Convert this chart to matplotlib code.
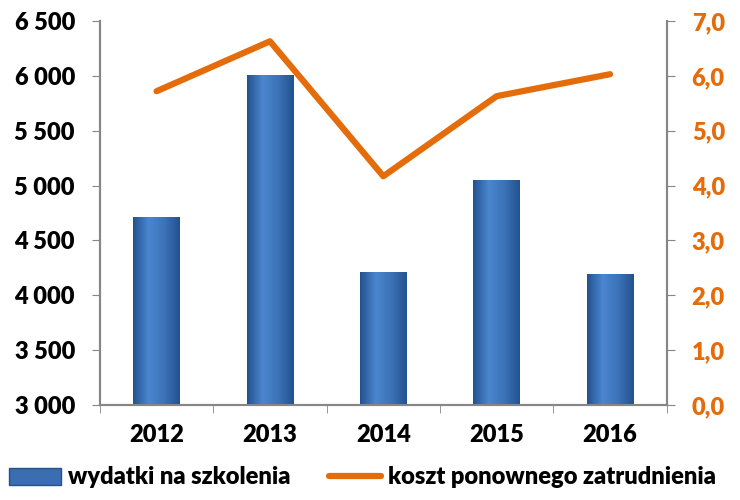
import numpy as np
import matplotlib.pyplot as plt
from matplotlib.patches import Patch
from matplotlib.lines import Line2D
from matplotlib.colors import LinearSegmentedColormap

years = ['2012', '2013', '2014', '2015', '2016']
wydatki = [4710, 6010, 4210, 5050, 4190]
koszt = [5.72, 6.63, 4.17, 5.63, 6.03]

blue = '#3B6EB0'
orange = '#E46C0A'
grey = '#868686'

plt.rcParams['font.family'] = ['Lato', 'DejaVu Sans']
plt.rcParams['font.weight'] = 'heavy'

fig = plt.figure(figsize=(7.4, 5.0), dpi=100)
ax = fig.add_axes([0.135, 0.19, 0.766, 0.768])
ax2 = ax.twinx()

x = np.arange(len(years))
bars = ax.bar(x, wydatki, width=0.41, color=blue, zorder=2)

# horizontal gradient on each bar
cmap = LinearSegmentedColormap.from_list('b', ['#24528F', '#4A86CF', '#3C73B8', '#24528F'])
grad = np.linspace(0, 1, 100).reshape(1, -1)
for b in bars:
    x0, y0 = b.get_x(), b.get_y()
    w, h = b.get_width(), b.get_height()
    im = ax.imshow(grad, cmap=cmap, aspect='auto', extent=[x0, x0 + w, 3000, y0 + h], zorder=3)
    im.set_clip_path(b)

ax.set_xlim(-0.5, 4.5)
ax.set_ylim(3000, 6500)
ax.set_yticks(np.arange(3000, 6501, 500))
ax.set_yticklabels([f'{v // 1000} {v % 1000:03d}' for v in range(3000, 6501, 500)])
ax.set_xticks(x)
ax.set_xticklabels(years)
ax.set_xticks(np.arange(-0.5, 4.6, 1), minor=True)
ax.tick_params(axis='x', which='major', length=0, pad=14)
ax.tick_params(axis='x', which='minor', length=6, color=grey)
ax.tick_params(axis='y', length=6, color=grey, pad=12)
for lab in ax.get_xticklabels() + ax.get_yticklabels():
    lab.set_fontsize(17)
    lab.set_fontweight('heavy')

ax2.plot(x, koszt, color=orange, lw=4.5, solid_capstyle='round', zorder=4)
ax2.set_ylim(0, 7)
ax2.set_yticks(np.arange(0, 7.1, 1))
ax2.set_yticklabels([f'{v:.1f}'.replace('.', ',') for v in np.arange(0, 7.1, 1)])
ax2.tick_params(axis='y', length=6, color=grey, pad=12, labelcolor=orange)
for lab in ax2.get_yticklabels():
    lab.set_fontsize(17)
    lab.set_fontweight('heavy')

for a in (ax, ax2):
    a.spines['top'].set_visible(False)
    for s in ('left', 'right', 'bottom'):
        a.spines[s].set_color(grey)
        a.spines[s].set_linewidth(1.5)

handles = [Patch(facecolor=blue, edgecolor='#24528F'),
           Line2D([0], [0], color=orange, lw=4.5, solid_capstyle='round')]
fig.legend(handles, ['wydatki na szkolenia', 'koszt ponownego zatrudnienia'],
           loc='center', bbox_to_anchor=(0.49, 0.045), ncol=2, frameon=False,
           prop={'size': 17, 'weight': 'heavy'}, handlelength=2.2, handletextpad=0.3,
           columnspacing=1.6)

fig.savefig('out.png', dpi=100)
